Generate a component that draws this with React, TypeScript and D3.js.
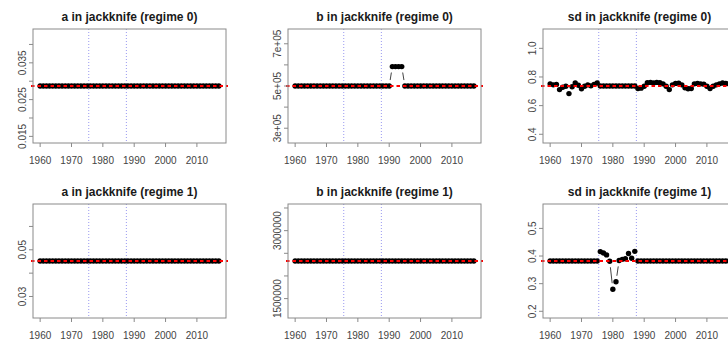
import React, { useRef, useEffect } from 'react';
import * as d3 from 'd3';

// Years left out one at a time (jackknife)
const years = [
  1960, 1961, 1962, 1963, 1964, 1965, 1966, 1967, 1968, 1969,
  1970, 1971, 1972, 1973, 1974, 1975, 1976, 1977, 1978, 1979,
  1980, 1981, 1982, 1983, 1984, 1985, 1986, 1987, 1988, 1989,
  1990, 1991, 1992, 1993, 1994, 1995, 1996, 1997, 1998, 1999,
  2000, 2001, 2002, 2003, 2004, 2005, 2006, 2007, 2008, 2009,
  2010, 2011, 2012, 2013, 2014, 2015, 2016, 2017
];
const regimeBreaks = [1975.5, 1987.5];
const xTicks = [1960, 1970, 1980, 1990, 2000, 2010];

// a, regime 0
const aFull0 = 0.0287;
const aJack0 = [
  0.0287, 0.0287, 0.0287, 0.0287, 0.0287, 0.0287, 0.0287, 0.0287, 0.0287, 0.0287,
  0.0287, 0.0287, 0.0287, 0.0287, 0.0287, 0.0287, 0.0287, 0.0287, 0.0287, 0.0287,
  0.0287, 0.0287, 0.0287, 0.0287, 0.0287, 0.0287, 0.0287, 0.0287, 0.0287, 0.0287,
  0.0287, 0.0287, 0.0287, 0.0287, 0.0287, 0.0287, 0.0287, 0.0287, 0.0287, 0.0287,
  0.0287, 0.0287, 0.0287, 0.0287, 0.0287, 0.0287, 0.0287, 0.0287, 0.0287, 0.0287,
  0.0287, 0.0287, 0.0287, 0.0287, 0.0287, 0.0287, 0.0287, 0.0287
];
const aTicks0 = [0.015, 0.02, 0.025, 0.03, 0.035, 0.04];
const aLabels0 = ['0.015', '', '0.025', '', '0.035', ''];

// b, regime 0
const bFull0 = 500000;
const bJack0 = [
  500000, 500000, 500000, 500000, 500000, 500000, 500000, 500000, 500000, 500000,
  500000, 500000, 500000, 500000, 500000, 500000, 500000, 500000, 500000, 500000,
  500000, 500000, 500000, 500000, 500000, 500000, 500000, 500000, 500000, 500000,
  500000, 592000, 592000, 592000, 592000, 500000, 500000, 500000, 500000, 500000,
  500000, 500000, 500000, 500000, 500000, 500000, 500000, 500000, 500000, 500000,
  500000, 500000, 500000, 500000, 500000, 500000, 500000, 500000
];
const bTicks0 = [300000, 400000, 500000, 600000, 700000];
const bLabels0 = ['3e+05', '', '5e+05', '', '7e+05'];

// sd, regime 0
const sdFull0 = 0.737;
const sdJack0 = [
  0.752, 0.745, 0.748, 0.712, 0.728, 0.735, 0.684, 0.732, 0.758, 0.742,
  0.718, 0.735, 0.745, 0.738, 0.748, 0.758, 0.737, 0.737, 0.737, 0.737,
  0.737, 0.737, 0.737, 0.737, 0.737, 0.737, 0.737, 0.737, 0.720, 0.722,
  0.735, 0.760, 0.762, 0.758, 0.762, 0.760, 0.752, 0.735, 0.712, 0.745,
  0.755, 0.757, 0.745, 0.725, 0.718, 0.720, 0.752, 0.755, 0.752, 0.750,
  0.735, 0.720, 0.735, 0.745, 0.752, 0.758, 0.755, 0.752
];
const sdTicks0 = [0.4, 0.6, 0.8, 1.0];
const sdLabels0 = ['0.4', '0.6', '0.8', '1.0'];

// a, regime 1
const aFull1 = 0.0452;
const aJack1 = [
  0.0452, 0.0452, 0.0452, 0.0452, 0.0452, 0.0452, 0.0452, 0.0452, 0.0452, 0.0452,
  0.0452, 0.0452, 0.0452, 0.0452, 0.0452, 0.0452, 0.0452, 0.0452, 0.0452, 0.0452,
  0.0452, 0.0452, 0.0452, 0.0452, 0.0452, 0.0452, 0.0452, 0.0452, 0.0452, 0.0452,
  0.0452, 0.0452, 0.0452, 0.0452, 0.0452, 0.0452, 0.0452, 0.0452, 0.0452, 0.0452,
  0.0452, 0.0452, 0.0452, 0.0452, 0.0452, 0.0452, 0.0452, 0.0452, 0.0452, 0.0452,
  0.0452, 0.0452, 0.0452, 0.0452, 0.0452, 0.0452, 0.0452, 0.0452
];
const aTicks1 = [0.03, 0.04, 0.05, 0.06];
const aLabels1 = ['0.03', '', '0.05', ''];

// b, regime 1
const bFull1 = 2330000;
const bJack1 = [
  2330000, 2330000, 2330000, 2330000, 2330000, 2330000, 2330000, 2330000, 2330000, 2330000,
  2330000, 2330000, 2330000, 2330000, 2330000, 2330000, 2330000, 2330000, 2330000, 2330000,
  2330000, 2330000, 2330000, 2330000, 2330000, 2330000, 2330000, 2330000, 2330000, 2330000,
  2330000, 2330000, 2330000, 2330000, 2330000, 2330000, 2330000, 2330000, 2330000, 2330000,
  2330000, 2330000, 2330000, 2330000, 2330000, 2330000, 2330000, 2330000, 2330000, 2330000,
  2330000, 2330000, 2330000, 2330000, 2330000, 2330000, 2330000, 2330000
];
const bTicks1 = [1500000, 2000000, 2500000, 3000000, 3500000];
const bLabels1 = ['1500000', '', '', '3000000', ''];

// sd, regime 1
const sdFull1 = 0.382;
const sdJack1 = [
  0.382, 0.382, 0.382, 0.382, 0.382, 0.382, 0.382, 0.382, 0.382, 0.382,
  0.382, 0.382, 0.382, 0.382, 0.382, 0.382, 0.416, 0.411, 0.404, 0.381,
  0.280, 0.307, 0.384, 0.388, 0.390, 0.409, 0.392, 0.417, 0.382, 0.382,
  0.382, 0.382, 0.382, 0.382, 0.382, 0.382, 0.382, 0.382, 0.382, 0.382,
  0.382, 0.382, 0.382, 0.382, 0.382, 0.382, 0.382, 0.382, 0.382, 0.382,
  0.382, 0.382, 0.382, 0.382, 0.382, 0.382, 0.382, 0.382
];
const sdTicks1 = [0.2, 0.3, 0.4, 0.5];
const sdLabels1 = ['0.2', '0.3', '0.4', '0.5'];

const titles = [
  'a in jackknife (regime 0)', 'b in jackknife (regime 0)', 'sd in jackknife (regime 0)',
  'a in jackknife (regime 1)', 'b in jackknife (regime 1)', 'sd in jackknife (regime 1)'
];

interface PanelSpec {
  title: string;
  full: number;
  values: number[];
  ticks: number[];
  labels: string[];
}

const panels: PanelSpec[] = [
  { title: titles[0], full: aFull0, values: aJack0, ticks: aTicks0, labels: aLabels0 },
  { title: titles[1], full: bFull0, values: bJack0, ticks: bTicks0, labels: bLabels0 },
  { title: titles[2], full: sdFull0, values: sdJack0, ticks: sdTicks0, labels: sdLabels0 },
  { title: titles[3], full: aFull1, values: aJack1, ticks: aTicks1, labels: aLabels1 },
  { title: titles[4], full: bFull1, values: bJack1, ticks: bTicks1, labels: bLabels1 },
  { title: titles[5], full: sdFull1, values: sdJack1, ticks: sdTicks1, labels: sdLabels1 },
];

const WIDTH = 728;
const HEIGHT = 345;
const COL_W = 255;
const ROW_H = 175;
const BOX = { left: 33, top: 29, width: 193, height: 114 };
const FONT = '"Liberation Sans", Arial, Helvetica, sans-serif';
const GAP = 6; // type = "b" gap around points

export default function App() {
  const svgRef = useRef<SVGSVGElement>(null);

  useEffect(() => {
    if (!svgRef.current) return;
    const svg = d3.select(svgRef.current);
    svg.selectAll('*').remove();

    const span = years[years.length - 1] - years[0];
    const xDomain = [years[0] - 0.04 * span, years[years.length - 1] + 0.04 * span];

    panels.forEach((p, idx) => {
      const col = idx % 3;
      const row = Math.floor(idx / 3);
      const g = svg.append('g')
        .attr('transform', `translate(${col * COL_W + BOX.left},${row * ROW_H + BOX.top})`);

      const x = d3.scaleLinear().domain(xDomain).range([0, BOX.width]);
      // ylim = full * (0.5, 1.5), expanded 4% like R
      const y = d3.scaleLinear()
        .domain([p.full * 0.46, p.full * 1.54])
        .range([BOX.height, 0]);

      // regime breaks
      g.selectAll('.brk')
        .data(regimeBreaks)
        .enter().append('line')
        .attr('x1', d => x(d)).attr('x2', d => x(d))
        .attr('y1', 0).attr('y2', BOX.height)
        .attr('stroke', '#9a9af0')
        .attr('stroke-width', 1)
        .attr('stroke-dasharray', '1,2');

      // connecting segments (type = "b")
      const pts = p.values.map((v, i) => [x(years[i]), y(v)]);
      const segs: number[][] = [];
      for (let i = 0; i < pts.length - 1; i++) {
        const [x1, y1] = pts[i];
        const [x2, y2] = pts[i + 1];
        const len = Math.hypot(x2 - x1, y2 - y1);
        if (len > 2 * GAP) {
          const ux = (x2 - x1) / len, uy = (y2 - y1) / len;
          segs.push([x1 + ux * GAP, y1 + uy * GAP, x2 - ux * GAP, y2 - uy * GAP]);
        }
      }
      g.selectAll('.seg')
        .data(segs)
        .enter().append('line')
        .attr('x1', d => d[0]).attr('y1', d => d[1])
        .attr('x2', d => d[2]).attr('y2', d => d[3])
        .attr('stroke', '#444')
        .attr('stroke-width', 1);

      // points
      g.selectAll('.pt')
        .data(pts)
        .enter().append('circle')
        .attr('cx', d => d[0])
        .attr('cy', d => d[1])
        .attr('r', 2.7)
        .attr('fill', '#000');

      // full-sample estimate
      g.append('line')
        .attr('x1', -2).attr('x2', BOX.width + 2)
        .attr('y1', y(p.full)).attr('y2', y(p.full))
        .attr('stroke', '#ff0000')
        .attr('stroke-width', 2)
        .attr('stroke-dasharray', '3.5,3');

      // box
      g.append('rect')
        .attr('x', 0).attr('y', 0)
        .attr('width', BOX.width).attr('height', BOX.height)
        .attr('fill', 'none')
        .attr('stroke', '#8a8a8a')
        .attr('stroke-width', 1);

      // x axis
      const xa = g.append('g').attr('transform', `translate(0,${BOX.height})`);
      xa.selectAll('line')
        .data(xTicks)
        .enter().append('line')
        .attr('x1', d => x(d)).attr('x2', d => x(d))
        .attr('y1', 0).attr('y2', 4)
        .attr('stroke', '#8a8a8a');
      xa.selectAll('text')
        .data(xTicks)
        .enter().append('text')
        .attr('x', d => x(d))
        .attr('y', 20.5)
        .attr('text-anchor', 'middle')
        .style('font-family', FONT)
        .style('font-size', '10px')
        .style('fill', '#444')
        .text(d => d);

      // y axis
      const ya = g.append('g');
      ya.selectAll('line')
        .data(p.ticks)
        .enter().append('line')
        .attr('x1', -4).attr('x2', 0)
        .attr('y1', d => y(d)).attr('y2', d => y(d))
        .attr('stroke', '#8a8a8a');
      ya.selectAll('text')
        .data(p.ticks.map((t, i) => ({ t, label: p.labels[i] })).filter(d => d.label))
        .enter().append('text')
        .attr('transform', d => `translate(-7,${y(d.t)}) rotate(-90)`)
        .attr('text-anchor', 'middle')
        .style('font-family', FONT)
        .style('font-size', '10px')
        .style('fill', '#444')
        .text(d => d.label);

      // title
      g.append('text')
        .attr('x', BOX.width / 2)
        .attr('y', -8)
        .attr('text-anchor', 'middle')
        .style('font-family', FONT)
        .style('font-size', '12px')
        .style('font-weight', 'bold')
        .style('fill', '#1a1a1a')
        .text(p.title);
    });
  }, []);

  return (
    <svg
      ref={svgRef}
      width={WIDTH}
      height={HEIGHT}
      style={{ position: 'absolute', left: 0, top: 0, background: '#fff' }}
    />
  );
}
